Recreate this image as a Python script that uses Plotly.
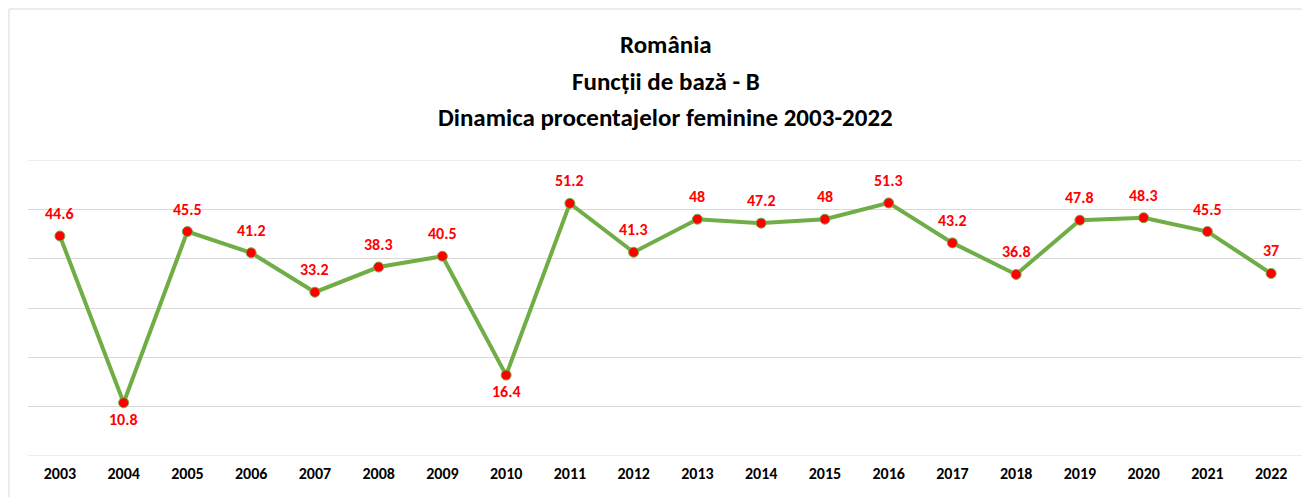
import plotly.graph_objects as go

years = [str(y) for y in range(2003, 2023)]
values = [44.6, 10.8, 45.5, 41.2, 33.2, 38.3, 40.5, 16.4, 51.2, 41.3,
          48, 47.2, 48, 51.3, 43.2, 36.8, 47.8, 48.3, 45.5, 37]
below = ["2004", "2010"]
title_lines = ["România", "Funcții de bază - B", "Dinamica procentajelor feminine 2003-2022"]

FONT = "Carlito, Calibri, 'Liberation Sans Narrow', 'Open Sans', sans-serif"

# page body has an 8px margin: figure pixel = screen pixel - 8
OFF = 8
W, H = 1310, 497
L, R, T, B = 28 - OFF, W - (1303 - OFF), 160 - OFF, H - (456 - OFF)
pw, ph = W - L - R, H - T - B

fig = go.Figure()
fig.add_trace(go.Scatter(
    x=years, y=values, mode="lines+markers",
    line=dict(color="#70AD47", width=4),
    marker=dict(size=10, color="#FF0000", line=dict(color="#70AD47", width=1)),
    hoverinfo="x+y", showlegend=False, cliponaxis=False,
))

annotations = []
for i, (x, v) in enumerate(zip(years, values)):
    lbl = f"{v:g}"
    if x in below:
        annotations.append(dict(x=i, y=v, text=lbl, showarrow=False, xref="x", yref="y",
                                yanchor="top", yshift=-5,
                                font=dict(family=FONT, size=16, color="#FF0000", weight="bold")))
    else:
        annotations.append(dict(x=i, y=v, text=lbl, showarrow=False, xref="x", yref="y",
                                yanchor="bottom", yshift=11,
                                font=dict(family=FONT, size=16, color="#FF0000", weight="bold")))

for t, ypix in zip(title_lines, [45, 81, 117]):
    annotations.append(dict(x=0.5, xref="paper", y=1 + (T - (ypix - OFF)) / ph, yref="paper",
                            text=t, showarrow=False, xanchor="center", yanchor="middle",
                            font=dict(family=FONT, size=25, color="#000000", weight="bold")))

grid_edges = [0, 60]
shapes = [dict(type="rect", xref="paper", yref="paper",
               x0=(9 - OFF - L) / pw, x1=1 + (R + 30) / pw,
               y0=-(B + 30) / ph, y1=1 + (T - (9 - OFF)) / ph,
               line=dict(color="#D9D9D9", width=1), fillcolor="rgba(0,0,0,0)", layer="below")]
for g in grid_edges:
    shapes.append(dict(type="line", xref="paper", yref="y", x0=0, x1=1, y0=g, y1=g,
                       line=dict(color="#D9D9D9", width=1), layer="below"))

fig.update_layout(
    width=W, height=H,
    margin=dict(l=L, r=R, t=T, b=B),
    paper_bgcolor="white", plot_bgcolor="white",
    annotations=annotations,
    xaxis=dict(type="category", showgrid=False, showline=False, ticks="",
               tickfont=dict(family=FONT, size=16, color="#000000", weight="bold"),
               range=[-0.5, len(years) - 0.5], ticklabelstandoff=6),
    yaxis=dict(range=[0, 60], tickvals=[10, 20, 30, 40, 50], showgrid=True,
               gridcolor="#D9D9D9", gridwidth=1,
               showticklabels=False, zeroline=False, showline=False, fixedrange=True),
    shapes=shapes,
)

fig.write_html("out.html")
